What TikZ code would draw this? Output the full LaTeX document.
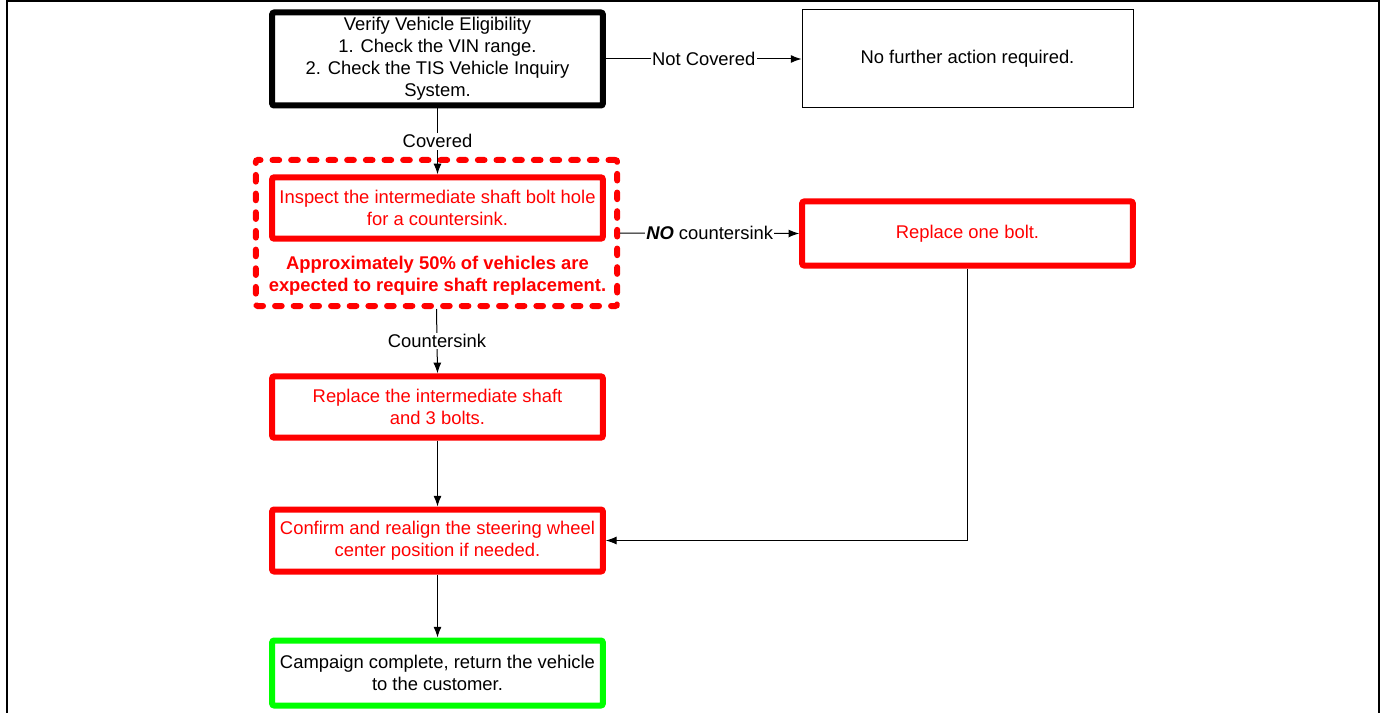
\documentclass[tikz,border=0pt]{standalone}
\usepackage{fontspec}
\setmainfont{Liberation Sans}
\usetikzlibrary{arrows.meta}
\newcommand{\boxfont}{\fontsize{13.8pt}{16.5pt}\selectfont}
\definecolor{stepred}{RGB}{255,0,0}
\definecolor{donegreen}{RGB}{0,255,0}
\tikzset{
  flowbox/.style={draw, rounded corners=1.5pt, minimum width=248pt, inner sep=0pt,
    align=center, font=\boxfont, fill=white},
  heavybox/.style={flowbox, line width=4.5pt, outer sep=2.25pt},
  redbox/.style={heavybox, draw=stepred, text=stepred},
  arr/.style={-{Latex[length=8pt,width=6pt]}, line width=0.75pt},
  lbl/.style={fill=white, inner sep=1pt, font=\boxfont}
}

\begin{document}
\begin{tikzpicture}[x=0.75pt,y=-0.75pt]
        \useasboundingbox (0,0) rectangle (1385,713);

        %%%%%%%%% Cornice %%%%%%%%%
        \draw[line width=1.5pt] (7,713) -- (7,1.5) -- (1379,1.5) -- (1379,713);

        %%%%%%%%% Gruppo %%%%%%%%%%
        \node[draw=stepred, line width=4.5pt, outer sep=2.25pt, rounded corners=1.5pt,
              dash pattern=on 5pt off 9pt, line cap=round,
              minimum width=271pt, minimum height=109.5pt] (grp) at (436.5,233) {};

        %%%%%%%%% Blocchi %%%%%%%%%
        \node[heavybox, minimum height=69.75pt] (verify) at (437.5,59)
              {Verify Vehicle Eligibility\\1. Check the VIN range.\\2. Check the TIS Vehicle Inquiry\\System.};
        \node[flowbox, rounded corners=0pt, line width=0.75pt, minimum width=248.25pt,
              minimum height=73.5pt] (noaction) at (967.5,59) {No further action required.};
        \node[redbox, minimum height=46pt] (inspect) at (437.5,208)
              {Inspect the intermediate shaft bolt hole\\for a countersink.};
        \node[text=stepred, align=center, font=\boxfont\bfseries, inner sep=0pt] (note) at (437.5,276)
              {Approximately 50\% of vehicles are\\expected to require shaft replacement.};
        \node[redbox, minimum height=48pt] (onebolt) at (967.5,233.5) {Replace one bolt.};
        \node[redbox, minimum height=46pt] (shaft) at (437.5,407)
              {Replace the intermediate shaft\\and 3 bolts.};
        \node[redbox, minimum height=46.5pt] (realign) at (437.5,540.5)
              {Confirm and realign the steering wheel\\center position if needed.};
        \node[heavybox, draw=donegreen, minimum height=48.75pt] (done) at (437.5,673)
              {Campaign complete, return the vehicle\\to the customer.};

        %%%%%%%%% Frecce %%%%%%%%%
        \draw[arr] (verify.east) -- node[lbl] {Not Covered} (noaction.west);
        \draw[arr] (verify.south) -- node[lbl] {Covered} (inspect.north);
        \draw[arr] (grp.east) -- node[lbl] {\textbf{\textit{NO}} countersink} (onebolt.west);
        \draw[arr] (grp.south) -- node[lbl] {Countersink} (shaft.north);
        \draw[arr] (shaft.south) -- (realign.north);
        \draw[arr] (onebolt.south) |- (realign.east);
        \draw[arr] (realign.south) -- (done.north);
    \end{tikzpicture}
\end{document}
